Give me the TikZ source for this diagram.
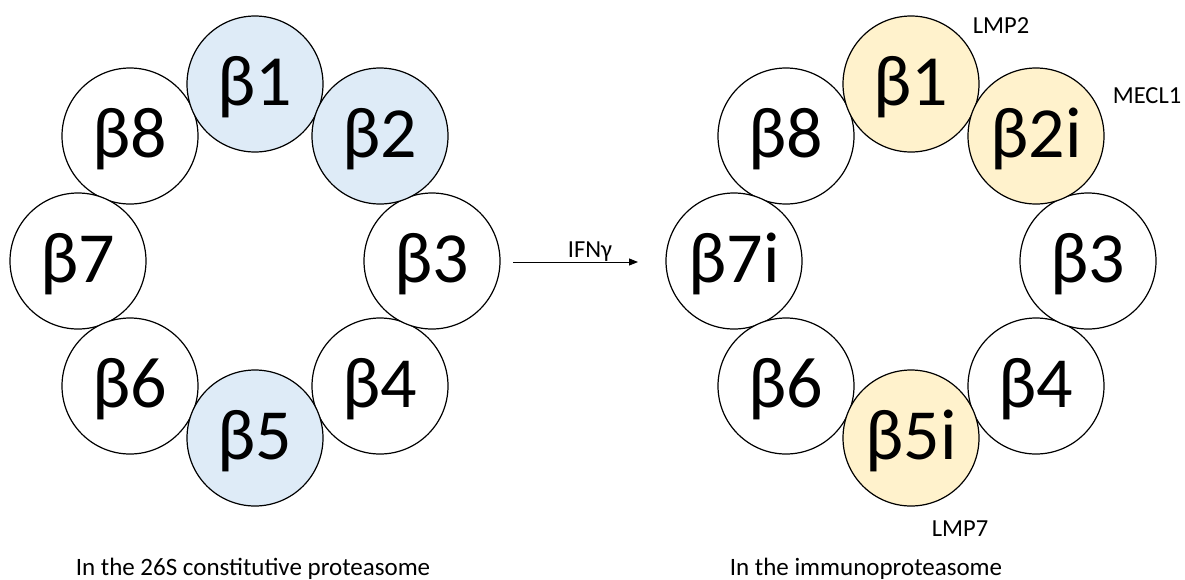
\documentclass[tikz,border=0pt]{standalone}
\usepackage{fontspec}
\setmainfont{Carlito}
\usetikzlibrary{arrows.meta}
\definecolor{constfill}{HTML}{DEEBF7}
\definecolor{immunofill}{HTML}{FFF2CC}
\tikzset{
  sub/.style={circle, draw=black, line width=1.2pt, minimum size=136pt, inner sep=0pt, fill=white},
  constsub/.style={sub, fill=constfill},
  immunosub/.style={sub, fill=immunofill},
  sublabel/.style={anchor=base, inner sep=0pt, font=\fontsize{72}{72}\selectfont},
  smalllabel/.style={anchor=base, inner sep=0pt, font=\fontsize{24.5}{26}\selectfont},
  caption/.style={anchor=base, inner sep=0pt, font=\fontsize{25}{27}\selectfont},
}
\begin{document}
\begin{tikzpicture}[x=1pt, y=-1pt]
\useasboundingbox (0,0) rectangle (1185,579);
% ---- constitutive proteasome ring, centre (255,261), radius 177
\node[sub] (c8) at (130,136) {};
\node[sub] (c7) at (78,261) {};
\node[sub] (c6) at (130,386) {};
\node[sub] (c4) at (380,386) {};
\node[sub] (c3) at (432,261) {};
\node[constsub] (c1) at (255,84) {};
\node[constsub] (c2) at (380,136) {};
\node[constsub] (c5) at (255,438) {};
\foreach \n/\t in {c1/1, c2/2, c3/3, c4/4, c5/5, c6/6, c7/7, c8/8}
  \node[sublabel] at ([yshift=-21pt]\n.center) {β\t};
% ---- immunoproteasome ring, centre (911,261)
\node[sub] (i8) at (786,136) {};
\node[sub] (i7) at (734,261) {};
\node[sub] (i6) at (786,386) {};
\node[sub] (i4) at (1036,386) {};
\node[sub] (i3) at (1088,261) {};
\node[immunosub] (i1) at (911,84) {};
\node[immunosub] (i2) at (1036,136) {};
\node[immunosub] (i5) at (911,438) {};
\foreach \n/\t in {i1/1, i2/2i, i3/3, i4/4, i5/5i, i6/6, i7/7i, i8/8}
  \node[sublabel] at ([yshift=-21pt]\n.center) {β\t};
% ---- subunit names
\node[smalllabel] (lmp2) at (1001,33) {LMP2};
\node[smalllabel] (mecl1) at (1147,103) {MECL1};
\node[smalllabel] (lmp7) at (960,536) {LMP7};
% ---- induction arrow
\coordinate (arrowstart) at (513,262);
\coordinate (arrowend) at (638,262);
\draw[line width=0.9pt, -{Triangle[length=9pt,width=7pt]}] (arrowstart) -- (arrowend);
\node[smalllabel] (ifn) at (590,257) {IFNγ};
% ---- captions
\node[caption] (capl) at (253,575) {In the 26S constitutive proteasome};
\node[caption] (capr) at (866,575) {In the immunoproteasome};
\end{tikzpicture}
\end{document}
